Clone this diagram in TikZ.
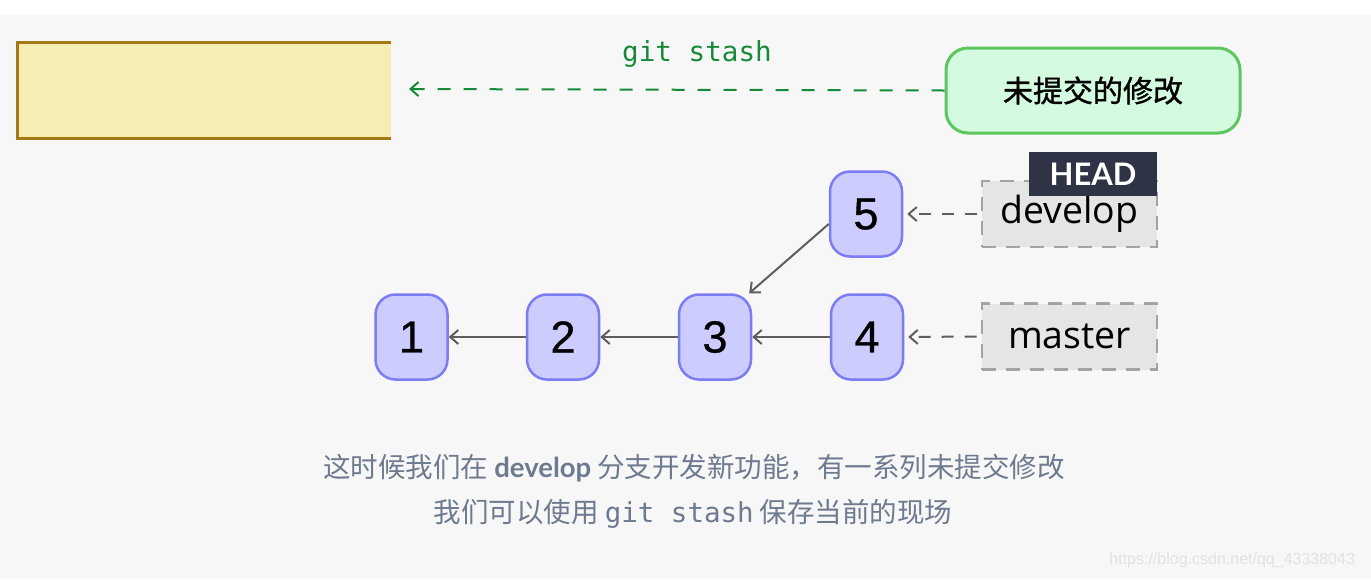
\documentclass[tikz,border=0pt]{standalone}
\usepackage{fontspec}
\setmainfont{Liberation Sans}
\newfontfamily\cjk{Noto Sans CJK SC}
\newfontfamily\cjkmed[FakeBold=1.2]{Noto Sans CJK SC}
\newfontfamily\monof{DejaVu Sans Mono}
\newfontfamily\latof{Lato}
\newfontfamily\opens{Open Sans}
\newfontfamily\digitf[FakeBold=0.8]{Liberation Sans}
\usetikzlibrary{arrows.meta}
\definecolor{bggray}{HTML}{F7F7F7}
\definecolor{yfill}{HTML}{F6EDB5}
\definecolor{ydraw}{HTML}{A67A12}
\definecolor{gline}{HTML}{168A38}
\definecolor{gfill}{HTML}{D4FADF}
\definecolor{gdraw}{HTML}{5DC65D}
\definecolor{cfill}{HTML}{CCCCFF}
\definecolor{cdraw}{HTML}{7C7CF5}
\definecolor{agray}{HTML}{5E5E5E}
\definecolor{bfill}{HTML}{E5E5E5}
\definecolor{bdraw}{HTML}{A3A3A3}
\definecolor{headc}{HTML}{2E3445}
\definecolor{txtc}{HTML}{6D7A8F}
\definecolor{wmark}{HTML}{E2E2E2}
\tikzset{
  commit/.style={draw=cdraw, fill=cfill, line width=1.25pt, rounded corners=10pt,
    minimum width=36pt, minimum height=42.5pt, inner sep=0pt,
    font=\digitf\fontsize{22.5}{24}\selectfont},
  branchbox/.style={draw=bdraw, fill=bfill, line width=1.4pt, dash pattern=on 7pt off 5pt,
    minimum width=87.5pt, minimum height=33pt, inner sep=0pt,
    font=\opens\fontsize{18.7}{20}\selectfont},
  headbox/.style={fill=headc, text=white, minimum width=64pt, minimum height=22pt, inner sep=0pt,
    font=\latof\bfseries\fontsize{15.5}{17}\selectfont},
  parent/.style={draw=agray, line width=1pt, -{Straight Barb[length=4pt,width=7pt,line width=1pt]}},
  refarrow/.style={draw=agray, line width=1pt, dash pattern=on 6pt off 5.5pt,
    -{Straight Barb[length=4pt,width=7pt,line width=1pt]}},
}
\begin{document}
\begin{tikzpicture}[x=0.5pt,y=-0.5pt]
\useasboundingbox (0,0) rectangle (1371,579);
\fill[white] (0,0) rectangle (1371,579);
\fill[bggray] (0,15) rectangle (1371,579);
% stash box
\fill[yfill] (16,41) rectangle (391,140);
\draw[ydraw, line width=1.5pt] (391,42.5) -- (17.5,42.5) -- (17.5,138.5) -- (391,138.5);
% uncommitted changes
\node[draw=gdraw, fill=gfill, line width=1.5pt, rounded corners=11pt,
  minimum width=147pt, minimum height=42.5pt, inner sep=0pt,
  font=\cjkmed\fontsize{15}{17}\selectfont] (wip) at (1093,90.5) {未提交的修改};
\coordinate (stashend) at (409,89);
\draw[gline, line width=1pt, dash pattern=on 6.5pt off 6.5pt,
  -{Straight Barb[length=4pt,width=7pt,line width=1pt]}] (wip.west) -- (stashend);
\node[text=gline, font=\monof\fontsize{13.8}{15}\selectfont] (stashlbl) at (697,54) {git stash};
% commits
\node[commit] (c1) at (411.5,337) {1};
\node[commit] (c2) at (563,337) {2};
\node[commit] (c3) at (715,337) {3};
\node[commit] (c4) at (867,337) {4};
\node[commit] (c5) at (866,214) {5};
\draw[parent] (c2) -- (c1);
\draw[parent] (c3) -- (c2);
\draw[parent] (c4) -- (c3);
\draw[parent] (c5.195) -- (c3.52);
% branches
\node[branchbox] (dev) at (1069.5,214) {develop};
\node[branchbox] (mas) at (1069.5,336.5) {master};
\node[headbox] (head) at (1093,174) {HEAD};
\draw[refarrow] ([xshift=-2pt]dev.west) -- ([xshift=2pt]c5.east);
\draw[refarrow] ([xshift=-2pt]mas.west) -- ([xshift=2pt]c4.east);
% caption
\node[text=txtc, font=\cjk\fontsize{13.75}{15}\selectfont] (cap1) at (694,468)
  {这时候我们在 {\latof\bfseries develop} 分支开发新功能，有一系列未提交修改};
\node[text=txtc, font=\cjk\fontsize{13.75}{15}\selectfont] (cap2) at (693,514)
  {我们可以使用 {\monof git stash} 保存当前的现场};
\node[text=wmark, font=\fontsize{8}{9}\selectfont, anchor=east] (wm) at (1362,560)
  {https://blog.csdn.net/qq\_43338043};
\end{tikzpicture}
\end{document}
